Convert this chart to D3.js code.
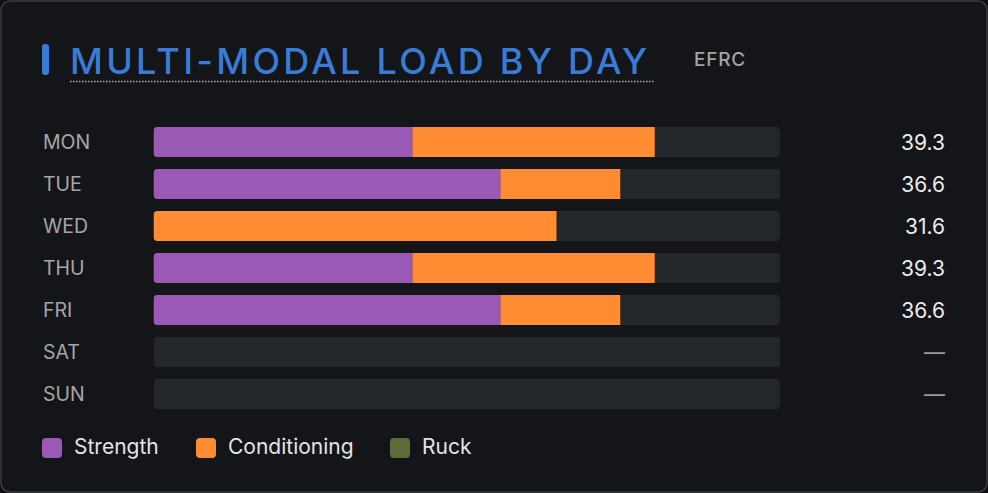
<!DOCTYPE html>
<html>
<head>
<meta charset="utf-8">
<script src="https://cdn.jsdelivr.net/npm/d3@7"></script>
<style>
  html, body { margin: 0; padding: 0; background: #0e0f11; }
  svg { display: block; font-family: Inter, "Noto Sans", sans-serif; }
</style>
</head>
<body>
<div id="chart"></div>
<script>
// data
const days = ["MON", "TUE", "WED", "THU", "FRI", "SAT", "SUN"];
const seriesNames = ["Strength", "Conditioning", "Ruck"];
const strength     = [20.3, 27.2, 0, 20.3, 27.2, 0, 0];
const conditioning = [19.0, 9.4, 31.6, 19.0, 9.4, 0, 0];
const ruck         = [0, 0, 0, 0, 0, 0, 0];
const seriesColors = ["#9b59b6", "#ff8c33", "#5e6c3c"];

const W = 988, H = 493;
const svg = d3.select("#chart").append("svg").attr("width", W).attr("height", H);

// card
svg.append("rect").attr("x", 1).attr("y", 1).attr("width", W - 2).attr("height", H - 2)
    .attr("rx", 9).attr("fill", "#141518").attr("stroke", "#393c41").attr("stroke-width", 1.5);

// title
svg.append("rect").attr("x", 42).attr("y", 44).attr("width", 7).attr("height", 31)
    .attr("rx", 3).attr("fill", "#3a7bd5");
const title = svg.append("text").attr("x", 70).attr("y", 74)
    .attr("fill", "#3a7bd5").style("font-size", "36px").style("font-weight", 500)
    .style("letter-spacing", "3.3px").text("MULTI-MODAL LOAD BY DAY");
const tw = title.node().getComputedTextLength();
svg.append("line").attr("x1", 70).attr("x2", 70 + tw + 3).attr("y1", 81.5).attr("y2", 81.5)
    .attr("stroke", "#a9aeb5").attr("stroke-width", 1.5).attr("stroke-dasharray", "1.5,1.5");
svg.append("text").attr("x", 694).attr("y", 66)
    .attr("fill", "#a3a3a3").style("font-size", "19px").style("font-weight", 500)
    .style("letter-spacing", "0.8px").text("EFRC");

// scales
const rows = days.map((d, i) => ({
    day: d,
    vals: [strength[i], conditioning[i], ruck[i]],
    total: strength[i] + conditioning[i] + ruck[i]
}));
const y = d3.scaleBand().domain(days).range([127, 409]).paddingInner(12 / 42).paddingOuter(0);
const x = d3.scaleLinear().domain([0, d3.max(rows, r => r.total) * 1.25]).range([153.5, 780]);

const defs = svg.append("defs");
const g = svg.append("g");

rows.forEach((r, i) => {
    const cid = "clip-" + i;
    defs.append("clipPath").attr("id", cid).append("rect")
        .attr("x", x(0)).attr("y", y(r.day)).attr("width", x.range()[1] - x(0))
        .attr("height", y.bandwidth()).attr("rx", 4);
    const row = g.append("g").attr("clip-path", `url(#${cid})`);
    row.append("rect").attr("x", x(0)).attr("y", y(r.day))
        .attr("width", x.range()[1] - x(0)).attr("height", y.bandwidth()).attr("fill", "#23262a");
    let acc = 0;
    r.vals.forEach((v, k) => {
        if (v > 0) {
            row.append("rect").attr("x", x(acc)).attr("y", y(r.day))
                .attr("width", x(acc + v) - x(acc)).attr("height", y.bandwidth())
                .attr("fill", seriesColors[k]);
        }
        acc += v;
    });

    const cy = y(r.day) + y.bandwidth() / 2;
    g.append("text").attr("x", 43).attr("y", cy).attr("dy", "0.36em")
        .attr("fill", "#a6a6a6").style("font-size", "19.5px").text(r.day);
    g.append("text").attr("x", 945).attr("y", cy).attr("dy", "0.36em")
        .attr("text-anchor", "end")
        .attr("fill", r.total > 0 ? "#ececec" : "#9a9a9a")
        .style("font-size", "21px")
        .text(r.total > 0 ? d3.format(".1f")(r.total) : "—");
});

// legend
const legendX = [42, 196, 390];
const lg = svg.append("g");
seriesNames.forEach((s, k) => {
    lg.append("rect").attr("x", legendX[k]).attr("y", 438).attr("width", 20).attr("height", 20)
        .attr("rx", 4).attr("fill", seriesColors[k]);
    lg.append("text").attr("x", legendX[k] + 32).attr("y", 446.5).attr("dy", "0.36em")
        .attr("fill", "#e4e4e4").style("font-size", "21px").text(s);
});
</script>
</body>
</html>
